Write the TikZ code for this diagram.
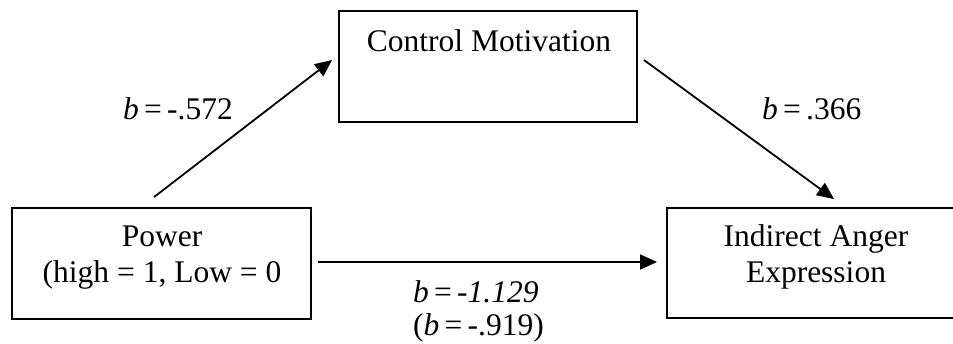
\documentclass[tikz,border=0pt]{standalone}
\usepackage{fontspec}
\setmainfont{Liberation Serif}
\usetikzlibrary{arrows.meta,calc}
\begin{document}
\begin{tikzpicture}[x=1pt,y=-1pt,
  box/.style={draw,line width=1.9pt,rectangle,inner sep=0pt},
  txt/.style={inner sep=0pt,font=\fontsize{31.5}{36}\selectfont},
  arr/.style={line width=1.8pt,-{Triangle[length=17pt,width=15pt]}}]
\useasboundingbox (0,0) rectangle (953,344);
\begin{scope}
\clip (0,0) rectangle (953,344);
\node[box,minimum width=299pt,minimum height=111pt] (pow) at (161.5,263.5) {};
\node[box,minimum width=298pt,minimum height=111pt] (cm) at (488,66.5) {};
\node[box,minimum width=298pt,minimum height=110pt] (iae) at (816,263) {};
\end{scope}
\node[txt,anchor=base] (powt1) at (162,247) {Power};
\node[txt,anchor=base] (powt2) at (162,283) {(high = 1, Low = 0};
\node[txt,anchor=base] (cmt) at (489,52) {Control Motivation};
\node[txt,anchor=base] (iaet1) at (816,247) {Indirect Anger};
\node[txt,anchor=base] (iaet2) at (816,283) {Expression};
\node[txt,anchor=base west] (l1) at (123,120) {\textit{b}\,=\,-.572};
\node[txt,anchor=base west] (l2) at (762,120) {\textit{b}\,=\,.366};
\node[txt,anchor=base west] (l3) at (413,303) {\textit{b}\,=\,\textit{-1.129}};
\node[txt,anchor=base west] (l4) at (413,336) {(\textit{b}\,=\,-.919)};
\coordinate (a1s) at ($(pow.north west)+(143,-10)$);
\coordinate (a1e) at ($(cm.west)+(-6,-6.5)$);
\draw[arr] (a1s) -- (a1e);
\coordinate (a2s) at ($(cm.east)+(6,-6.5)$);
\coordinate (a2e) at ($(iae.north west)+(168,-8)$);
\draw[arr] (a2s) -- (a2e);
\coordinate (a3s) at ($(pow.east)+(6,-1.5)$);
\coordinate (a3e) at ($(iae.west)+(-9,-1)$);
\draw[arr] (a3s) -- (a3e);
\end{tikzpicture}
\end{document}
